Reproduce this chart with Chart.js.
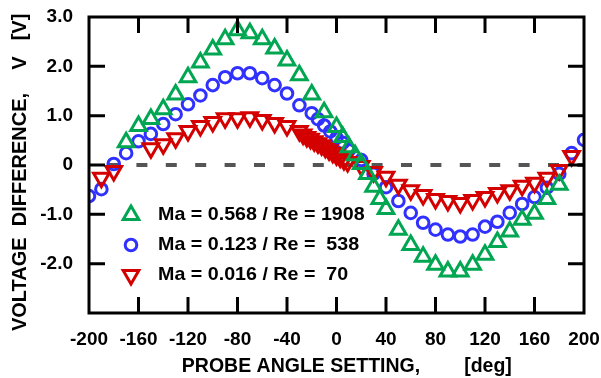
<!DOCTYPE html>
<html>
<head>
<meta charset="utf-8">
<script src="https://cdn.jsdelivr.net/npm/chart.js@4"></script>
<style>
  html, body { margin: 0; padding: 0; background: #fff; }
  #wrap { width: 601px; height: 378px; }
</style>
</head>
<body>
<div id="wrap"><canvas id="probeChart" width="601" height="378"></canvas></div>
<script>
// probe angle [deg] and voltage difference [V]
const angleMa0568 = [-170, -160, -150, -140, -130, -120, -110, -100, -90, -80, -70, -60, -50, -40, -30, -20, -10,
  0, 5, 10, 15, 20, 25, 30, 35, 40, 50, 60, 70, 80, 90, 100, 110, 120, 130, 140, 150, 160, 170, 180];
const voltMa0568 = [0.46, 0.79, 0.93, 1.13, 1.43, 1.78, 2.08, 2.34, 2.55, 2.73, 2.67, 2.55, 2.36, 2.12, 1.82, 1.43, 1.07,
  0.77, 0.57, 0.36, 0.20, 0.02, -0.18, -0.44, -0.69, -0.89, -1.31, -1.62, -1.86, -2.02, -2.16, -2.16, -2.02, -1.82, -1.56, -1.35, -1.11, -0.99, -0.69, -0.40];

const angleMa0123 = [-200, -190, -180, -170, -160, -150, -140, -130, -120, -110, -100, -90, -80, -70, -60, -50, -40, -30,
  -20, -15, -10, -5, 0, 5, 10, 20, 30, 40, 50, 60, 70, 80, 90, 100, 110, 120, 130, 140, 150, 160, 170, 180, 190, 200];
const voltMa0123 = [-0.63, -0.49, 0.02, 0.24, 0.48, 0.63, 0.83, 1.03, 1.23, 1.41, 1.62, 1.78, 1.86, 1.86, 1.76, 1.62, 1.45, 1.21,
  1.05, 0.93, 0.80, 0.68, 0.55, 0.45, 0.30, 0.10, -0.18, -0.45, -0.73, -0.97, -1.17, -1.31, -1.41, -1.45, -1.41, -1.25, -1.15, -0.97, -0.79, -0.65, -0.46, -0.18, 0.24, 0.51];

const angleMa0016 = [-190, -180, -150, -140, -130, -120, -110, -100, -90, -80, -70, -60, -50, -40, -30,
  -27, -24, -21, -18, -15, -12, -9, -6, -3, 0, 3, 6, 9,
  20, 30, 40, 50, 60, 70, 80, 90, 100, 110, 120, 130, 140, 150, 160, 170, 180, 190];
const voltMa0016 = [-0.26, -0.12, 0.34, 0.42, 0.54, 0.69, 0.79, 0.87, 0.95, 0.95, 0.97, 0.91, 0.85, 0.79, 0.69,
  0.62, 0.57, 0.53, 0.48, 0.44, 0.40, 0.35, 0.30, 0.25, 0.20, 0.15, 0.10, 0.06,
  -0.02, -0.14, -0.24, -0.40, -0.51, -0.61, -0.69, -0.73, -0.77, -0.71, -0.65, -0.57, -0.51, -0.42, -0.36, -0.26, -0.10, 0.18];

const seriesLabels = ['Ma = 0.568 / Re = 1908', 'Ma = 0.123 / Re =  538', 'Ma = 0.016 / Re =  70'];
const xTickValues = [-200, -160, -120, -80, -40, 0, 40, 80, 120, 160, 200];
const yTickValues = [-3, -2, -1, 0, 1, 2, 3];
const yTickLabels = ['', '-2.0', '-1.0', '0', '1.0', '2.0', '3.0'];

const toPoints = (xs, ys) => xs.map((x, i) => ({ x: x, y: ys[i] }));

const FAMILY = '"Liberation Sans", Arial, sans-serif';

// frame with inward ticks on all four sides, then the legend and axis titles
const decorations = {
  id: 'decorations',
  afterDraw(chart) {
    const ctx = chart.ctx;
    const a = chart.chartArea;
    const xs = chart.scales.x;
    const ys = chart.scales.y;
    const len = 16;

    ctx.save();
    ctx.strokeStyle = '#000';
    ctx.lineWidth = 3;
    ctx.setLineDash([]);
    ctx.beginPath();
    ctx.rect(a.left, a.top, a.right - a.left, a.bottom - a.top);
    xTickValues.forEach(v => {
      const px = xs.getPixelForValue(v);
      ctx.moveTo(px, a.bottom); ctx.lineTo(px, a.bottom - len);
      ctx.moveTo(px, a.top); ctx.lineTo(px, a.top + len);
    });
    yTickValues.forEach(v => {
      const py = ys.getPixelForValue(v);
      ctx.moveTo(a.left, py); ctx.lineTo(a.left + len, py);
      ctx.moveTo(a.right, py); ctx.lineTo(a.right - len, py);
    });
    ctx.stroke();
    ctx.restore();

    // legend inside the plot, lower left
    const rows = [215, 245, 275];
    ctx.save();
    ctx.font = 'bold 19px ' + FAMILY;
    ctx.textBaseline = 'middle';
    ctx.textAlign = 'left';
    chart.data.datasets.slice(0, 3).forEach((ds, i) => {
      ctx.fillStyle = 'rgba(0,0,0,0)';
      ctx.strokeStyle = ds.borderColor;
      ctx.lineWidth = ds.borderWidth;
      Chart.helpers.drawPoint(ctx, {
        pointStyle: ds.pointStyle,
        rotation: ds.pointRotation || 0,
        radius: ds.pointRadius,
        borderWidth: ds.borderWidth
      }, 131, rows[i]);
      ctx.fillStyle = '#000';
      ctx.save();
      ctx.translate(158, rows[i]);
      ctx.scale(1.035, 1);
      ctx.fillText(ds.label, 0, 0);
      ctx.restore();
    });
    ctx.restore();

    // axis titles
    ctx.save();
    ctx.fillStyle = '#000';
    ctx.textBaseline = 'middle';
    ctx.textAlign = 'center';
    ctx.font = 'bold 19.5px ' + FAMILY;
    ctx.fillText('PROBE ANGLE SETTING,', 301, 367);
    ctx.fillText('[deg]', 488, 367);
    ctx.font = 'bold 20px ' + FAMILY;
    ctx.translate(20, 0);
    ctx.rotate(-Math.PI / 2);
    ctx.fillText('VOLTAGE  DIFFERENCE,', -212, 0);
    ctx.fillText('V', -63, 0);
    ctx.fillText('[V]', -27, 0);
    ctx.restore();
  }
};

const hollow = 'rgba(0,0,0,0)';

new Chart(document.getElementById('probeChart'), {
  type: 'scatter',
  data: {
    datasets: [
      {
        label: seriesLabels[0],
        data: toPoints(angleMa0568, voltMa0568),
        pointStyle: 'triangle',
        pointRadius: 9,
        borderWidth: 3,
        borderColor: '#00a651',
        backgroundColor: hollow,
        order: 0
      },
      {
        label: seriesLabels[1],
        data: toPoints(angleMa0123, voltMa0123),
        pointStyle: 'circle',
        pointRadius: 5.8,
        borderWidth: 3,
        borderColor: '#3030ff',
        backgroundColor: hollow,
        order: 2
      },
      {
        label: seriesLabels[2],
        data: toPoints(angleMa0016, voltMa0016),
        pointStyle: 'triangle',
        pointRotation: 180,
        pointRadius: 9,
        borderWidth: 3,
        borderColor: '#d40000',
        backgroundColor: hollow,
        order: 1
      },
      {
        label: 'zero',
        type: 'line',
        data: [{ x: -200, y: 0 }, { x: 200, y: 0 }],
        borderColor: '#555555',
        borderWidth: 4,
        borderDash: [11, 18.4],
        borderDashOffset: 11.4,
        pointRadius: 0,
        order: 3
      }
    ]
  },
  options: {
    responsive: false,
    animation: false,
    layout: { padding: { top: 17, right: 17, left: 0, bottom: 0 } },
    plugins: {
      legend: { display: false },
      tooltip: { enabled: false }
    },
    scales: {
      x: {
        min: -200,
        max: 200,
        afterBuildTicks: s => { s.ticks = xTickValues.map(v => ({ value: v })); },
        afterFit: s => { s.height = 65; s.paddingLeft = 0; s.paddingRight = 0; },
        grid: { display: false },
        border: { display: false },
        ticks: {
          color: '#000',
          font: { family: FAMILY, size: 19, weight: 'bold' },
          padding: 7,
          maxRotation: 0
        }
      },
      y: {
        min: -3,
        max: 3,
        afterBuildTicks: s => { s.ticks = yTickValues.map(v => ({ value: v })); },
        afterFit: s => { s.width = 89; s.paddingTop = 0; s.paddingBottom = 0; },
        grid: { display: false },
        border: { display: false },
        ticks: {
          color: '#000',
          font: { family: FAMILY, size: 19, weight: 'bold' },
          padding: 8,
          callback: (v, i) => yTickLabels[i]
        }
      }
    }
  },
  plugins: [decorations]
});
</script>
</body>
</html>
